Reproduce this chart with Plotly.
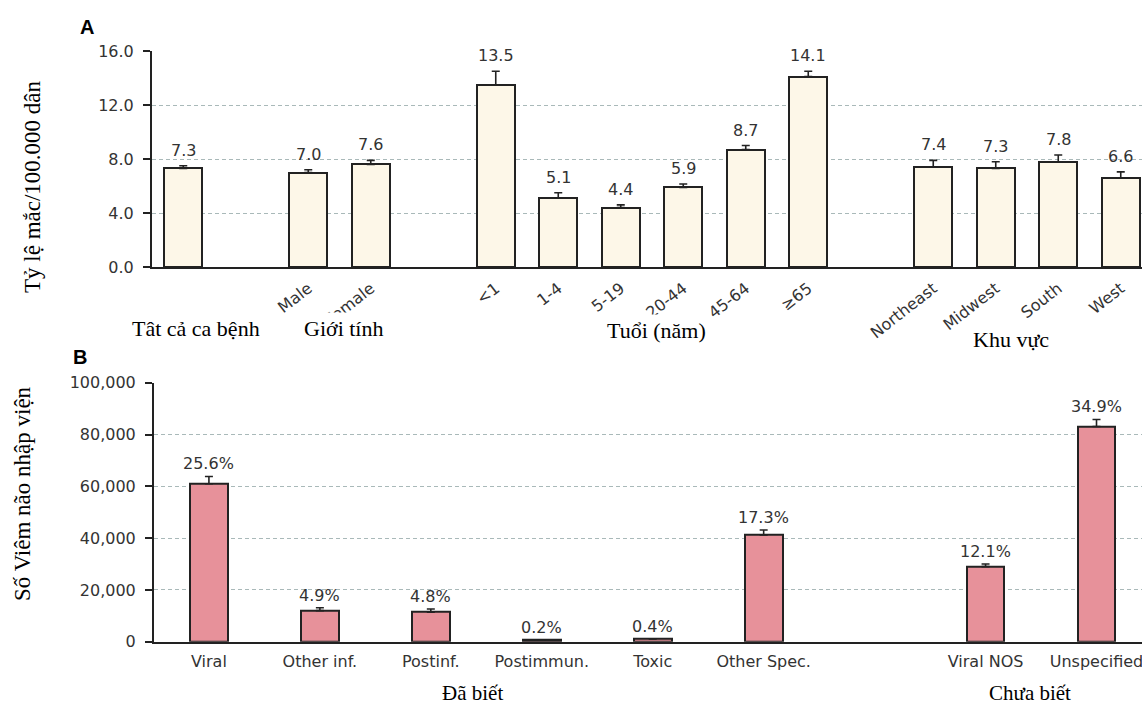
import plotly.graph_objects as go

# ---- Panel A: incidence per 100,000 population ----
a_groups = ["Tât cả ca bệnh", "Giới tính", "Tuổi (năm)", "Khu vực"]
a_group_sizes = [1, 2, 6, 4]
a_labels = ["", "Male", "Female", "<1", "1-4", "5-19", "20-44", "45-64", "≥65",
            "Northeast", "Midwest", "South", "West"]
a_values = [7.3, 7.0, 7.6, 13.5, 5.1, 4.4, 5.9, 8.7, 14.1, 7.4, 7.3, 7.8, 6.6]
a_errors = [0.2, 0.2, 0.3, 1.0, 0.4, 0.2, 0.25, 0.3, 0.4, 0.5, 0.5, 0.5, 0.45]
a_ticks = [0, 4, 8, 12, 16]

# ---- Panel B: encephalitis hospitalisations by cause ----
b_groups = ["Đã biết", "Chưa biết"]
b_group_sizes = [6, 2]
b_labels = ["Viral", "Other inf.", "Postinf.", "Postimmun.", "Toxic", "Other Spec.",
            "Viral NOS", "Unspecified"]
b_values = [61000, 12000, 11400, 600, 1100, 41200, 29000, 83100]
b_errors = [2800, 1100, 1200, 0, 0, 1900, 1000, 2700]
b_percent = ["25.6%", "4.9%", "4.8%", "0.2%", "0.4%", "17.3%", "12.1%", "34.9%"]
b_ticks = [0, 20000, 40000, 60000, 80000, 100000]


def slot_positions(sizes):
    """Place bars on integer slots, leaving one empty slot between groups."""
    pos, out, centers = 0, [], []
    for n in sizes:
        idx = list(range(pos, pos + n))
        out += idx
        centers.append((idx[0] + idx[-1]) / 2)
        pos += n + 1
    return out, centers


a_x, a_centers = slot_positions(a_group_sizes)
b_x, b_centers = slot_positions(b_group_sizes)

W, H = 1142, 707
SANS = "DejaVu Sans"
SERIF = "Liberation Serif"
TXT = "#333333"
INK = "#222222"
GRID = "#a9b9b9"

fig = go.Figure()

fig.add_trace(go.Bar(
    x=a_x, y=a_values, width=0.61,
    marker=dict(color="#fdf7e8", line=dict(color=INK, width=2)),
    error_y=dict(type="data", array=a_errors, arrayminus=[0] * len(a_errors),
                 symmetric=False, color=INK, thickness=1.6, width=4),
    xaxis="x", yaxis="y", showlegend=False, hoverinfo="skip",
))

fig.add_trace(go.Bar(
    x=b_x, y=b_values, width=0.34,
    marker=dict(color="#e7919a", line=dict(color=INK, width=2)),
    error_y=dict(type="data", array=b_errors, arrayminus=[0] * len(b_errors),
                 symmetric=False, color=INK, thickness=1.6, width=4),
    xaxis="x2", yaxis="y2", showlegend=False, hoverinfo="skip",
))

annotations = []

# value labels above each bar
for x, v, e in zip(a_x, a_values, a_errors):
    annotations.append(dict(x=x, y=v + e, xref="x", yref="y", text=f"{v:.1f}",
                            showarrow=False, yanchor="bottom", yshift=4,
                            font=dict(family=SANS, size=16, color=TXT)))
for x, v, e, p in zip(b_x, b_values, b_errors, b_percent):
    annotations.append(dict(x=x, y=v + e, xref="x2", yref="y2", text=p,
                            showarrow=False, yanchor="bottom", yshift=1,
                            font=dict(family=SANS, size=16, color=TXT)))

# group captions under the axes (white boxes sit over the tick labels)
a_caption_y = [328, 328, 330, 340]
a_caption_dx = [13, 4, 4, -16]
for c, name, py, dx in zip(a_centers, a_groups, a_caption_y, a_caption_dx):
    annotations.append(dict(x=c, y=1 - py / H, xref="x", yref="paper", text=name,
                            showarrow=False, xanchor="center", yanchor="middle",
                            xshift=dx, bgcolor="white", borderpad=3,
                            font=dict(family=SERIF, size=22, color="black")))
b_caption_dx = [-14, -11]
for c, name, dx in zip(b_centers, b_groups, b_caption_dx):
    annotations.append(dict(x=c, y=1 - 693 / H, xref="x2", yref="paper", text=name,
                            showarrow=False, xanchor="center", yanchor="middle",
                            xshift=dx, bgcolor="white", borderpad=0,
                            font=dict(family=SERIF, size=21, color="black")))

# y-axis titles
annotations.append(dict(x=33 / W, y=1 - 187 / H, xref="paper", yref="paper",
                        text="Tỷ lệ mắc/100.000 dân", textangle=-90, showarrow=False,
                        xanchor="center", yanchor="middle",
                        font=dict(family=SERIF, size=23, color="black")))
annotations.append(dict(x=22 / W, y=1 - 494 / H, xref="paper", yref="paper",
                        text="Số Viêm não nhập viện", textangle=-90, showarrow=False,
                        xanchor="center", yanchor="middle",
                        font=dict(family=SERIF, size=23, color="black")))

# panel letters
annotations.append(dict(x=87 / W, y=1 - 27 / H, xref="paper", yref="paper",
                        text="<b>A</b>", showarrow=False,
                        xanchor="center", yanchor="middle",
                        font=dict(family="Liberation Sans", size=20, color="black")))
annotations.append(dict(x=80 / W, y=1 - 357 / H, xref="paper", yref="paper",
                        text="<b>B</b>", showarrow=False,
                        xanchor="center", yanchor="middle",
                        font=dict(family="Liberation Sans", size=20, color="black")))

tickfont = dict(family=SANS, size=16, color=TXT)

common_x = dict(tickmode="array", tickfont=tickfont, showline=True, linecolor=INK,
                linewidth=2, showgrid=False, zeroline=False, ticks="",
                automargin=False, ticklabeloverflow="allow")
common_y = dict(tickmode="array", tickfont=tickfont, showline=True, linecolor=INK,
                linewidth=2, ticks="outside", ticklen=7, tickcolor=INK, tickwidth=1.5,
                ticklabelstandoff=6, showgrid=True, gridcolor=GRID, gridwidth=1,
                griddash="4px,3px", zeroline=False, automargin=False)

fig.update_layout(
    width=W, height=H,
    margin=dict(l=0, r=0, t=0, b=0, autoexpand=False),
    paper_bgcolor="white", plot_bgcolor="white",
    bargap=0,
    annotations=annotations,
    xaxis=dict(domain=[152 / W, 1], range=[-0.5, 15.34], anchor="y",
               tickvals=a_x, ticktext=a_labels, tickangle=-38,
               ticklabelstandoff=4, **common_x),
    yaxis=dict(domain=[1 - 267 / H, 1 - 51 / H], range=[0, 16], anchor="x",
               tickvals=a_ticks, tickformat=".1f", **common_y),
    xaxis2=dict(domain=[154 / W, 1], range=[-0.495, 8.41], anchor="y2",
                tickvals=b_x, ticktext=b_labels, tickangle=0,
                ticklabelstandoff=4, **common_x),
    yaxis2=dict(domain=[1 - 641.7 / H, 1 - 382.7 / H], range=[0, 100000], anchor="x2",
                tickvals=b_ticks, tickformat=",", **common_y),
)

fig.write_html("out.html")
